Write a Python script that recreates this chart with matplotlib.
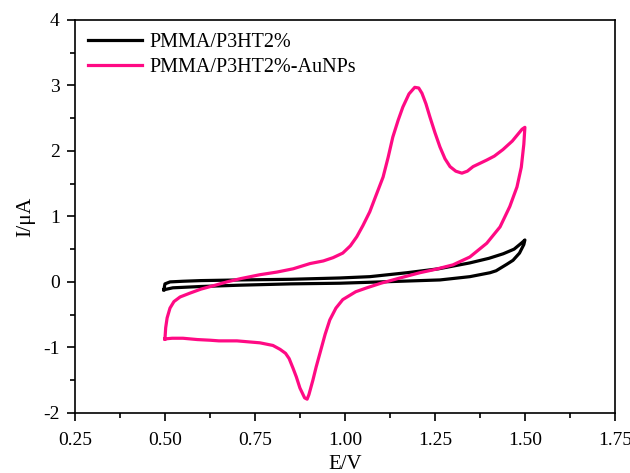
import numpy as np
import matplotlib
matplotlib.use('Agg')
import matplotlib.pyplot as plt
from matplotlib.ticker import MultipleLocator

# Data #
# PMMA/P3HT2% (black loop: forward then back)
E_black = [0.497, 0.500, 0.514, 0.550, 0.600, 0.708, 0.850, 0.986, 1.069, 1.172, 1.260,
           1.347, 1.400, 1.440, 1.470, 1.492, 1.500,
           1.497, 1.485, 1.467, 1.450, 1.420, 1.403, 1.347, 1.264, 1.100, 0.986,
           0.850, 0.708, 0.600, 0.522, 0.497]
I_black = [-0.12, -0.03, 0.00, 0.01, 0.02, 0.03, 0.04, 0.06, 0.08, 0.14, 0.20,
           0.29, 0.36, 0.43, 0.50, 0.60, 0.64,
           0.57, 0.44, 0.33, 0.27, 0.17, 0.14, 0.08, 0.03, 0.00, -0.02,
           -0.03, -0.05, -0.07, -0.09, -0.12]

# PMMA/P3HT2%-AuNPs (pink loop: forward then back)
E_pink = [0.500, 0.502, 0.506, 0.514, 0.525, 0.542, 0.570, 0.600, 0.640, 0.672, 0.710,
          0.764, 0.811, 0.856, 0.903, 0.940, 0.967, 0.994, 1.015, 1.033, 1.050, 1.069,
          1.085, 1.106, 1.120, 1.133, 1.148, 1.161, 1.178, 1.194, 1.205, 1.214, 1.225,
          1.236, 1.250, 1.264, 1.278, 1.292, 1.308, 1.325, 1.340, 1.356, 1.375, 1.394,
          1.415, 1.439, 1.465, 1.492, 1.500,
          1.497, 1.490, 1.478, 1.458, 1.431, 1.394, 1.347, 1.300, 1.250, 1.208, 1.153,
          1.100, 1.061, 1.030, 0.994, 0.975, 0.958, 0.945, 0.931, 0.920, 0.911, 0.900,
          0.895, 0.888, 0.875, 0.865, 0.856, 0.845, 0.835, 0.820, 0.800, 0.764, 0.700,
          0.650, 0.625, 0.590, 0.550, 0.520, 0.500]
I_pink = [-0.87, -0.70, -0.55, -0.40, -0.30, -0.23, -0.17, -0.11, -0.05, 0.00, 0.05,
          0.11, 0.15, 0.20, 0.28, 0.32, 0.37, 0.44, 0.55, 0.69, 0.86, 1.07,
          1.30, 1.60, 1.90, 2.21, 2.47, 2.67, 2.87, 2.97, 2.96, 2.88, 2.72,
          2.52, 2.28, 2.06, 1.88, 1.76, 1.69, 1.66, 1.69, 1.76, 1.81, 1.86,
          1.92, 2.02, 2.15, 2.33, 2.36,
          2.10, 1.75, 1.45, 1.15, 0.84, 0.59, 0.38, 0.26, 0.19, 0.14, 0.06,
          -0.02, -0.09, -0.15, -0.27, -0.40, -0.58, -0.80, -1.08, -1.30, -1.50, -1.72,
          -1.79, -1.77, -1.62, -1.45, -1.32, -1.17, -1.09, -1.03, -0.97, -0.93, -0.90,
          -0.90, -0.89, -0.88, -0.86, -0.86, -0.87]

labels = ['PMMA/P3HT2%', 'PMMA/P3HT2%-AuNPs']
xticks = [0.25, 0.50, 0.75, 1.00, 1.25, 1.50, 1.75]

# Figure #
plt.rcParams['font.family'] = ['Liberation Serif', 'DejaVu Serif']
plt.rcParams['axes.unicode_minus'] = False

fig = plt.figure(figsize=(6.3, 4.73), dpi=100)
ax = fig.add_axes([0.119, 0.127, 0.857, 0.831])

ax.plot(E_black, I_black, color='black', lw=2.3, solid_joinstyle='round', label=labels[0])
ax.plot(E_pink, I_pink, color='#FF0A84', lw=2.3, solid_joinstyle='round', label=labels[1])

ax.set_xlim(0.25, 1.75)
ax.set_ylim(-2, 4)
ax.set_xticks(xticks)
ax.set_xticklabels(['%.2f' % v for v in xticks])
ax.xaxis.set_minor_locator(MultipleLocator(0.125))
ax.yaxis.set_major_locator(MultipleLocator(1))
ax.yaxis.set_minor_locator(MultipleLocator(0.5))

ax.tick_params(which='major', direction='out', length=6, width=1.2, labelsize=14)
ax.tick_params(which='minor', direction='out', length=3.5, width=1.2)
ax.tick_params(axis='x', which='major', pad=8)
ax.tick_params(axis='y', which='major', pad=5)
ax.tick_params(top=False, right=False, which='both')
for s in ax.spines.values():
    s.set_linewidth(1.2)

ax.set_xlabel('E/V', fontsize=15, labelpad=4)
ax.set_ylabel('I/\u03bcA', fontsize=15.5, labelpad=6)

leg = ax.legend(loc='upper left', bbox_to_anchor=(0.0, 1.0), frameon=False, fontsize=14.5,
                handlelength=2.7, handletextpad=0.35, labelspacing=0.3, borderaxespad=0.25)

plt.savefig('out.png', dpi=100)
